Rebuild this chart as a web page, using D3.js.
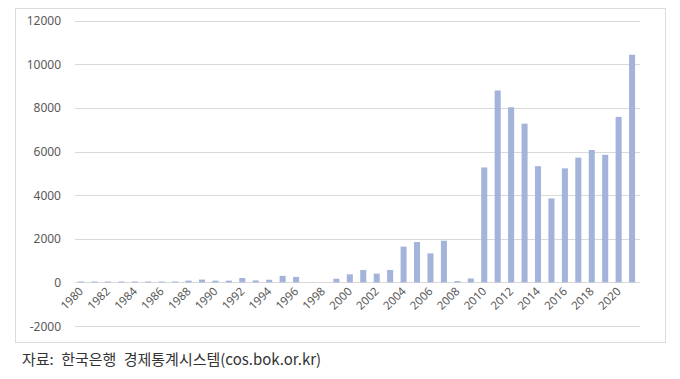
<!DOCTYPE html>
<html>
<head>
<meta charset="utf-8">
<script src="https://cdn.jsdelivr.net/npm/d3@7"></script>
<style>
  body { margin: 0; background: #fff; }
  svg { display: block; }
</style>
</head>
<body>
<svg id="chart" width="680" height="379"></svg>
<script>
// years 1980 - 2021
const years = d3.range(1980, 2022);
// values
const values = [
  40, 40, 40, 40, 40, 40, 40, 40, 80, 130,
  80, 80, 200, 90, 120, 300, 250, 0, 0, 170,
  370, 570, 400, 570, 1640, 1850, 1330, 1910, 60, 180,
  5270, 8800, 8030, 7280, 5330, 3850, 5230, 5720, 6070, 5850,
  7590, 10440
];
const yTicks = [-2000, 0, 2000, 4000, 6000, 8000, 10000, 12000];
const xLabels = years.filter((y) => y % 2 === 0 && y <= 2020);
const sourceText = "자료: 한국은행 경제통계시스템(cos.bok.or.kr)";

const svg = d3.select("#chart");

// chart frame
svg.append("rect")
  .attr("x", 15.5).attr("y", 8.5)
  .attr("width", 650).attr("height", 334)
  .attr("fill", "#fff")
  .attr("stroke", "#dcdcdc");

const x = d3.scaleBand()
  .domain(years)
  .range([74.3, 638.8])
  .paddingInner(0.55)
  .paddingOuter(0.275);

const y = d3.scaleLinear()
  .domain([-2000, 12000])
  .range([326, 20.7]);

// gridlines
svg.append("g")
  .selectAll("line")
  .data(yTicks)
  .join("line")
  .attr("x1", 75).attr("x2", 640)
  .attr("y1", (d) => Math.round(y(d)) + 0.5)
  .attr("y2", (d) => Math.round(y(d)) + 0.5)
  .attr("stroke", "#d9d9d9")
  .attr("stroke-width", 1);

// y labels
svg.append("g")
  .selectAll("text")
  .data(yTicks)
  .join("text")
  .attr("x", 61)
  .attr("y", (d) => y(d) + 4.5)
  .attr("text-anchor", "end")
  .attr("font-family", "'Noto Sans', sans-serif")
  .attr("font-size", 12)
  .attr("fill", "#595959")
  .text((d) => d);

// bars
svg.append("g")
  .selectAll("rect")
  .data(years)
  .join("rect")
  .attr("x", (d) => x(d))
  .attr("width", x.bandwidth())
  .attr("y", (d, i) => y(Math.max(0, values[i])))
  .attr("height", (d, i) => Math.abs(y(values[i]) - y(0)))
  .attr("fill", "#a4b3da");

// x labels, rotated
svg.append("g")
  .selectAll("text")
  .data(xLabels)
  .join("text")
  .attr("transform", (d) => `translate(${x(d) + x.bandwidth() / 2 + 3},${292}) rotate(-45)`)
  .attr("text-anchor", "end")
  .attr("font-family", "'Noto Sans', sans-serif")
  .attr("font-size", 11.5)
  .attr("fill", "#595959")
  .text((d) => d);

// source note
svg.append("text")
  .attr("x", 22)
  .attr("y", 365)
  .attr("font-family", "'Noto Sans CJK KR', sans-serif")
  .attr("font-size", 15)
  .attr("word-spacing", 4)
  .attr("fill", "#333")
  .text(sourceText);
</script>
</body>
</html>
